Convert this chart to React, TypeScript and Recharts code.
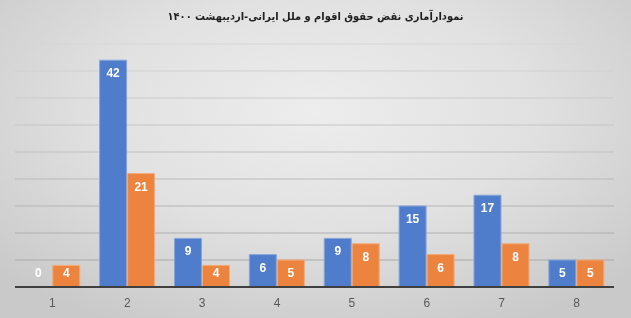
import React from "react";
import { Bar, BarChart, CartesianGrid, Cell, LabelList, XAxis, YAxis } from "recharts";

const chartTitle = "نمودارآماری نقض حقوق اقوام و ملل ایرانی-اردیبهشت ۱۴۰۰";
const categories = ["1", "2", "3", "4", "5", "6", "7", "8"];
const seriesBlue = [0, 42, 9, 6, 9, 15, 17, 5];
const seriesOrange = [4, 21, 4, 5, 8, 6, 8, 5];
const yTicks = [0, 5, 10, 15, 20, 25, 30, 35, 40, 45];

const data = categories.map((c, i) => ({ cat: c, blue: seriesBlue[i], orange: seriesOrange[i] }));

const W = 631;
const H = 318;

// Excel-style label: inside the top of the bar, but never closer than 14px to the baseline
function BarLabel(props: any) {
  const { x, y, width, height, value } = props;
  const base = Number(y) + Number(height);
  const cy = Math.min(Number(y) + 13, base - 14);
  return (
    <text
      x={Number(x) + Number(width) / 2}
      y={cy}
      textAnchor="middle"
      dominantBaseline="central"
      fill="#ffffff"
      fontSize={12}
      fontWeight={700}
      fontFamily="'Liberation Sans', Arial, sans-serif"
    >
      {value}
    </text>
  );
}

// zero bars still need a rectangle so the label gets drawn
const tinyForZero = (v: any) => (Number(v) === 0 ? 0.01 : 0);

export default function App() {
  return (
    <div
      style={{
        position: "fixed",
        left: 0,
        top: 0,
        width: W,
        height: H,
        background: "radial-gradient(ellipse 68% 75% at 50% 35%, #ededed 0%, #e1e1e1 50%, #c9c9c9 100%)",
      }}
    >
      <div
        style={{
          position: "absolute",
          top: 10,
          left: 0,
          width: W,
          textAlign: "center",
          direction: "rtl",
          fontFamily: "'DejaVu Sans Condensed', 'DejaVu Sans', sans-serif",
          fontWeight: 700,
          fontSize: 11,
          color: "#1f1f1f",
        }}
      >
        {chartTitle}
      </div>
      <BarChart
        width={W}
        height={H}
        data={data}
        margin={{ top: 44, right: 17, bottom: 6, left: 15 }}
        barCategoryGap="13%"
        barGap={1}
      >
        <defs>
          <linearGradient id="gridGrad" x1="0" y1="44" x2="0" y2="287" gradientUnits="userSpaceOnUse">
            <stop offset="0%" stopColor="#d6d6d6" />
            <stop offset="100%" stopColor="#a4a4a4" />
          </linearGradient>
        </defs>
        <CartesianGrid vertical={false} stroke="url(#gridGrad)" strokeWidth={1} />
        <YAxis hide domain={[0, 45]} ticks={yTicks} />
        <XAxis
          dataKey="cat"
          height={25}
          tickLine={false}
          axisLine={{ stroke: "#3f3f3f", strokeWidth: 2 }}
          tick={{ fill: "#595959", fontSize: 12, fontFamily: "'Liberation Sans', Arial, sans-serif" }}
          tickMargin={5}
        />
        <Bar
          dataKey="blue"
          fill="#4f7dcb"
          stroke="#86a6dc"
          strokeWidth={1}
          minPointSize={tinyForZero}
          isAnimationActive={false}
        >
          {seriesBlue.map((v, i) => (
            <Cell key={i} stroke={v === 0 ? "none" : "#86a6dc"} />
          ))}
          <LabelList dataKey="blue" content={BarLabel} />
        </Bar>
        <Bar
          dataKey="orange"
          fill="#ec8440"
          stroke="#f3ab78"
          strokeWidth={1}
          minPointSize={tinyForZero}
          isAnimationActive={false}
        >
          {seriesOrange.map((v, i) => (
            <Cell key={i} stroke={v === 0 ? "none" : "#f3ab78"} />
          ))}
          <LabelList dataKey="orange" content={BarLabel} />
        </Bar>
      </BarChart>
    </div>
  );
}
